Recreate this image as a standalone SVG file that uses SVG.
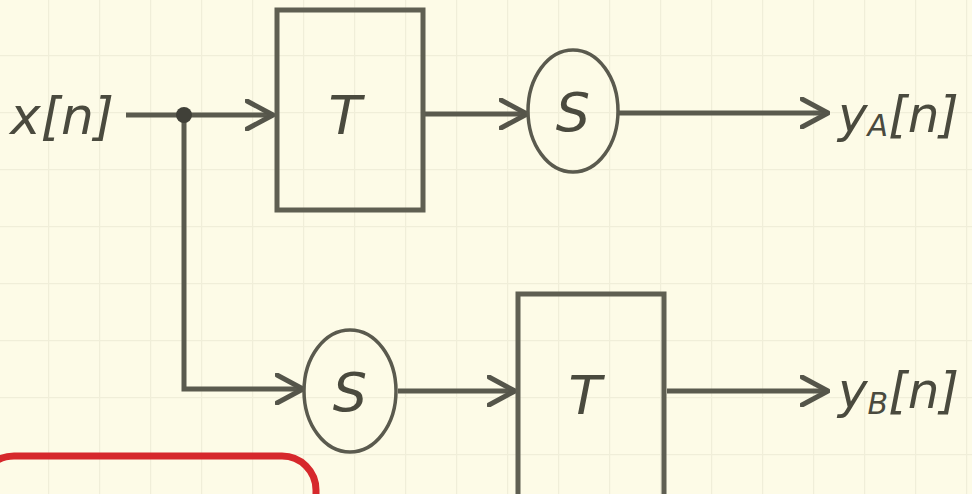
<svg xmlns="http://www.w3.org/2000/svg" width="972" height="494" viewBox="0 0 972 494">
  <defs>
    <pattern id="grid" x="-3" y="-2" width="51" height="57" patternUnits="userSpaceOnUse">
      <path d="M0 0 H51 M0 0 V57" fill="none" stroke="#f0eed9" stroke-width="2.5"/>
    </pattern>
    <marker id="chev" viewBox="0 0 30 32" refX="28" refY="16" markerWidth="30" markerHeight="32" markerUnits="userSpaceOnUse" orient="auto">
      <path d="M2 2 L28 16 L2 30" fill="none" stroke="#55554a" stroke-width="5" stroke-linecap="round" stroke-linejoin="round"/>
    </marker>
    <style>
      .wire { fill: none; stroke: #5a5a4e; stroke-width: 5; }
      .box { fill: none; stroke: #5f5f52; stroke-width: 5; }
      .ring { fill: none; stroke: #5a5a4e; stroke-width: 3.5; }
      .hand { font-family: "DejaVu Sans", "Liberation Sans", sans-serif; font-style: italic; fill: #4a4a3e; }
    </style>
  </defs>

  <!-- paper background -->
  <rect width="972" height="494" fill="#fdfbe7"/>
  <rect width="972" height="494" fill="url(#grid)"/>

  <!-- connectors -->
  <g id="connectors">
    <line class="wire" x1="126" y1="115" x2="273" y2="115" marker-end="url(#chev)"/>
    <line class="wire" x1="425" y1="114" x2="527" y2="114" marker-end="url(#chev)"/>
    <line class="wire" x1="619" y1="113" x2="828" y2="113" marker-end="url(#chev)"/>
    <polyline class="wire" points="184,115 184,389 303,389" marker-end="url(#chev)"/>
    <line class="wire" x1="398" y1="391" x2="515" y2="391" marker-end="url(#chev)"/>
    <line class="wire" x1="667" y1="391" x2="828" y2="391" marker-end="url(#chev)"/>
    <circle cx="184" cy="115" r="8" fill="#404038"/>
  </g>

  <!-- input label -->
  <g id="input">
    <text class="hand" x="10" y="134" font-size="52" textLength="104" lengthAdjust="spacingAndGlyphs">x[n]</text>
  </g>

  <!-- upper path: T then S -->
  <g id="T1">
    <rect class="box" x="277" y="10" width="146" height="200"/>
    <text class="hand" x="345" y="134" font-size="54" text-anchor="middle">T</text>
  </g>
  <g id="S1">
    <ellipse class="ring" cx="573" cy="111" rx="45" ry="61"/>
    <text class="hand" x="573" y="131" font-size="54" text-anchor="middle">S</text>
  </g>
  <g id="outA">
    <text class="hand" x="838" y="132" font-size="50">y<tspan font-size="30" dy="4">A</tspan><tspan dy="-4">[n]</tspan></text>
  </g>

  <!-- lower path: S then T -->
  <g id="S2">
    <ellipse class="ring" cx="350" cy="391" rx="46" ry="61"/>
    <text class="hand" x="350" y="411" font-size="54" text-anchor="middle">S</text>
  </g>
  <g id="T2">
    <rect class="box" x="518" y="294" width="146" height="210"/>
    <text class="hand" x="585" y="414" font-size="54" text-anchor="middle">T</text>
  </g>
  <g id="outB">
    <text class="hand" x="838" y="408" font-size="50">y<tspan font-size="30" dy="6">B</tspan><tspan dy="-6">[n]</tspan></text>
  </g>

  <!-- red highlight frame at lower left -->
  <rect x="-20" y="456" width="336" height="120" rx="34" fill="none" stroke="#d6282c" stroke-width="7"/>
</svg>
